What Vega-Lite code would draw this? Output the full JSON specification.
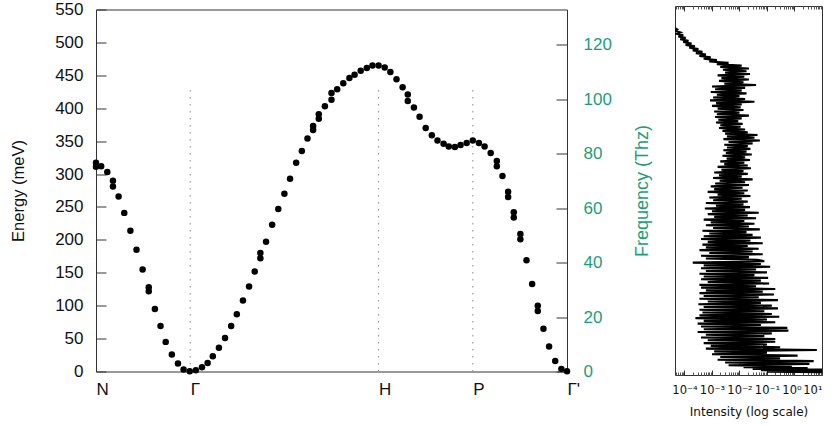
{
  "$schema": "https://vega.github.io/schema/vega-lite/v6.json",
  "padding": {"left": 10, "top": 0, "right": 4, "bottom": 4},
  "spacing": 108,
  "bounds": "flush",
  "center": true,
  "config": {
    "font": "Liberation Sans",
    "view": {"stroke": "#333333", "strokeWidth": 1},
    "axis": {"minExtent": 0, "grid": false, "labelOverlap": false}
  },
  "hconcat": [
    {
      "width": 471,
      "height": 362,
      "layer": [
        {
          "data": {"values": [{"k": 0.2}, {"k": 0.6}, {"k": 0.8}]},
          "mark": {"type": "rule", "color": "#8a8a8a", "strokeWidth": 1, "strokeDash": [1.5, 5.5]},
          "encoding": {
            "x": {
              "field": "k", "type": "quantitative", "scale": {"domain": [0, 1], "nice": false},
              "axis": {
                "values": [0, 0.2, 0.6, 0.8, 1],
                "labelExpr": "datum.value == 0 ? 'N' : datum.value == 0.2 ? 'Γ' : datum.value == 0.6 ? 'H' : datum.value == 0.8 ? 'P' : \"Γ'\"",
                "ticks": false, "domain": false, "title": null, "labelFlush": false,
                "labelAlign": "left", "labelFontSize": 17, "labelColor": "#111111", "labelPadding": 10
              }
            },
            "y": {"datum": 0, "type": "quantitative", "scale": {"domain": [0, 550], "nice": false}, "axis": null},
            "y2": {"datum": 435}
          }
        },
        {
          "data": {"values": [
            {"k":0,"E":317},{"k":0,"E":311},{"k":0.011,"E":312},{"k":0.024,"E":303},{"k":0.036,"E":290},{"k":0.036,"E":281},
            {"k":0.048,"E":266},{"k":0.060,"E":241},{"k":0.073,"E":214},{"k":0.086,"E":185},{"k":0.099,"E":155},{"k":0.112,"E":128},
            {"k":0.112,"E":122},{"k":0.125,"E":95},{"k":0.137,"E":69},{"k":0.148,"E":45},{"k":0.161,"E":26},{"k":0.174,"E":12},
            {"k":0.186,"E":3},{"k":0.199,"E":0.5},
            {"k":0.212,"E":2},{"k":0.225,"E":6.5},{"k":0.237,"E":13},{"k":0.248,"E":23},{"k":0.261,"E":36},{"k":0.274,"E":51},
            {"k":0.287,"E":69},{"k":0.299,"E":87},{"k":0.312,"E":108},{"k":0.325,"E":129},{"k":0.337,"E":152},{"k":0.349,"E":180},
            {"k":0.349,"E":172},{"k":0.361,"E":197},{"k":0.374,"E":223},{"k":0.387,"E":247},{"k":0.400,"E":270},{"k":0.412,"E":293},
            {"k":0.425,"E":317},{"k":0.437,"E":335},{"k":0.449,"E":354},{"k":0.461,"E":373},{"k":0.461,"E":367},{"k":0.473,"E":391},
            {"k":0.473,"E":384},{"k":0.486,"E":403},{"k":0.500,"E":423},{"k":0.500,"E":413},{"k":0.512,"E":429},{"k":0.525,"E":438},
            {"k":0.538,"E":446},{"k":0.549,"E":451},{"k":0.562,"E":457},{"k":0.575,"E":461},{"k":0.587,"E":465},{"k":0.600,"E":465},
            {"k":0.613,"E":462},{"k":0.625,"E":455},{"k":0.638,"E":444},{"k":0.651,"E":432},{"k":0.662,"E":421},{"k":0.662,"E":411},
            {"k":0.675,"E":401},{"k":0.687,"E":387},{"k":0.700,"E":370},{"k":0.713,"E":359},{"k":0.725,"E":351},{"k":0.738,"E":346},
            {"k":0.749,"E":342},{"k":0.762,"E":341},{"k":0.774,"E":344},{"k":0.787,"E":347},{"k":0.800,"E":351},
            {"k":0.813,"E":347},{"k":0.825,"E":342},{"k":0.838,"E":332},{"k":0.851,"E":320},{"k":0.851,"E":312},{"k":0.863,"E":297},
            {"k":0.875,"E":273},{"k":0.875,"E":265},{"k":0.887,"E":242},{"k":0.887,"E":234},{"k":0.901,"E":209},{"k":0.901,"E":201},
            {"k":0.914,"E":169},{"k":0.926,"E":133},{"k":0.938,"E":100},{"k":0.938,"E":92},{"k":0.950,"E":65},{"k":0.962,"E":38},
            {"k":0.975,"E":16},{"k":0.988,"E":4},{"k":1.000,"E":0.5}
          ]},
          "mark": {"type": "circle", "size": 42, "color": "#000000", "opacity": 1},
          "encoding": {
            "x": {
              "field": "k", "type": "quantitative", "scale": {"domain": [0, 1], "nice": false},
              "axis": {
                "values": [0, 0.2, 0.6, 0.8, 1],
                "labelExpr": "datum.value == 0 ? 'N' : datum.value == 0.2 ? 'Γ' : datum.value == 0.6 ? 'H' : datum.value == 0.8 ? 'P' : \"Γ'\"",
                "ticks": false, "domain": false, "title": null, "labelFlush": false,
                "labelAlign": "left", "labelFontSize": 17, "labelColor": "#111111", "labelPadding": 10
              }
            },
            "y": {
              "field": "E", "type": "quantitative", "scale": {"domain": [0, 550], "nice": false},
              "axis": {
                "values": [0, 50, 100, 150, 200, 250, 300, 350, 400, 450, 500, 550],
                "tickSize": -10, "tickColor": "#333333", "tickWidth": 1, "domain": false,
                "labelFontSize": 17, "labelColor": "#111111", "labelPadding": 23,
                "title": "Energy (meV)", "titleFontSize": 16.5, "titleFontWeight": "normal", "titleColor": "#111111", "titlePadding": 28
              }
            }
          }
        },
        {
          "data": {"values": [{"f": 0}, {"f": 133}]},
          "mark": {"type": "point", "opacity": 0},
          "encoding": {
            "y": {
              "field": "f", "type": "quantitative", "scale": {"domain": [0, 133], "nice": false},
              "axis": {
                "orient": "right", "values": [0, 20, 40, 60, 80, 100, 120],
                "tickSize": -11, "tickColor": "#333333", "tickWidth": 1, "domain": false,
                "labelFontSize": 17, "labelColor": "#1b9e77", "labelPadding": 27,
                "title": "Frequency (Thz)", "titleFontSize": 18, "titleFontWeight": "normal", "titleColor": "#1b9e77",
                "titleAngle": 270, "titleBaseline": "top", "titlePadding": 22
              }
            }
          }
        }
      ],
      "resolve": {"scale": {"y": "independent"}}
    },
    {
      "width": 147,
      "height": 369,
      "data": {"values": [
        {"f":125,"I":4.6e-5},{"f":124.5,"I":5.5e-5},{"f":124,"I":4.8e-5},{"f":123.5,"I":7e-5},{"f":123,"I":5.2e-5},
        {"f":122.5,"I":9e-5},{"f":122,"I":6e-5},{"f":121.5,"I":1.1e-4},{"f":121,"I":7e-5},{"f":120.5,"I":1.4e-4},
        {"f":120,"I":9e-5},{"f":119.5,"I":1.8e-4},{"f":119,"I":1.1e-4},{"f":118.5,"I":2.4e-4},{"f":118,"I":1.5e-4},
        {"f":117.5,"I":3.2e-4},{"f":117,"I":2e-4},{"f":116.5,"I":4.5e-4},{"f":116,"I":2.6e-4},{"f":115.5,"I":6e-4},
        {"f":115,"I":3.5e-4},{"f":114.5,"I":9e-4},{"f":114,"I":5e-4},{"f":113.5,"I":1.5e-3},{"f":113,"I":8e-4},
        {"f":112.5,"I":4e-3},{"f":112,"I":1.5e-3},{"f":111.5,"I":1.2e-2},{"f":111,"I":2e-3},{"f":110.5,"I":2.2e-2},
        {"f":110,"I":2.5e-3},{"f":109.5,"I":1.8e-2},{"f":109,"I":3e-3},{"f":108.5,"I":2.4e-2},{"f":108,"I":1.6e-3},
        {"f":107.5,"I":1.5e-2},{"f":107,"I":2.2e-3},{"f":106.5,"I":2.2e-2},{"f":106,"I":1.8e-3},{"f":105.5,"I":1.4e-2},
        {"f":105,"I":2.8e-3},{"f":104.5,"I":4e-2},{"f":104,"I":1e-3},{"f":103.5,"I":1.6e-2},{"f":103,"I":1.3e-3},
        {"f":102.5,"I":1.2e-2},{"f":102,"I":9e-4},{"f":101.5,"I":1.8e-2},{"f":101,"I":1.5e-3},{"f":100.5,"I":1e-2},
        {"f":100,"I":1.1e-3},{"f":99.5,"I":1.6e-2},{"f":99,"I":8.5e-4},{"f":98.5,"I":3.5e-2},{"f":98,"I":1.4e-3},
        {"f":97.5,"I":1.2e-2},{"f":97,"I":1e-3},{"f":96.5,"I":1.1e-2},{"f":96,"I":1.6e-3},{"f":95.5,"I":1.4e-2},
        {"f":95,"I":1.2e-3},{"f":94.5,"I":1e-2},{"f":94,"I":1.5e-3},{"f":93.5,"I":2.2e-2},{"f":93,"I":1.3e-3},
        {"f":92.5,"I":1.2e-2},{"f":92,"I":1.7e-3},{"f":91.5,"I":9e-3},{"f":91,"I":1.4e-3},{"f":90.5,"I":1.3e-2},
        {"f":90,"I":2e-3},{"f":89.5,"I":1.1e-2},{"f":89,"I":1.8e-3},{"f":88.5,"I":1.6e-2},{"f":88,"I":2.4e-3},
        {"f":87.5,"I":2e-2},{"f":87,"I":3e-3},{"f":86.5,"I":4.5e-2},{"f":86,"I":3.5e-3},{"f":85.5,"I":3.5e-2},
        {"f":85,"I":2.6e-3},{"f":84.5,"I":5.5e-2},{"f":84,"I":4e-3},{"f":83.5,"I":3e-2},{"f":83,"I":2.8e-3},
        {"f":82.5,"I":2e-2},{"f":82,"I":3.5e-3},{"f":81.5,"I":2.5e-2},{"f":81,"I":2.6e-3},{"f":80.5,"I":1.8e-2},
        {"f":80,"I":3.2e-3},{"f":79.5,"I":2.8e-2},{"f":79,"I":2.4e-3},{"f":78.5,"I":1.6e-2},{"f":78,"I":3.4e-3},
        {"f":77.5,"I":2.4e-2},{"f":77,"I":2e-3},{"f":76.5,"I":1.5e-2},{"f":76,"I":2.8e-3},{"f":75.5,"I":2e-2},
        {"f":75,"I":1.6e-3},{"f":74.5,"I":2.6e-2},{"f":74,"I":2.2e-3},{"f":73.5,"I":1.4e-2},{"f":73,"I":1.2e-3},
        {"f":72.5,"I":2e-2},{"f":72,"I":1.8e-3},{"f":71.5,"I":1.2e-2},{"f":71,"I":1.1e-3},{"f":70.5,"I":3e-2},
        {"f":70,"I":1.9e-3},{"f":69.5,"I":1.6e-2},{"f":69,"I":1.3e-3},{"f":68.5,"I":2.2e-2},{"f":68,"I":9e-4},
        {"f":67.5,"I":1.3e-2},{"f":67,"I":1.2e-3},{"f":66.5,"I":2e-2},{"f":66,"I":7e-4},{"f":65.5,"I":1.5e-2},
        {"f":65,"I":1.6e-3},{"f":64.5,"I":2.5e-2},{"f":64,"I":8e-4},{"f":63.5,"I":1.2e-2},{"f":63,"I":1.1e-3},
        {"f":62.5,"I":2e-2},{"f":62,"I":6e-4},{"f":61.5,"I":1.4e-2},{"f":61,"I":1.4e-3},{"f":60.5,"I":2.4e-2},
        {"f":60,"I":5.5e-4},{"f":59.5,"I":1.6e-2},{"f":59,"I":1e-3},{"f":58.5,"I":5e-2},{"f":58,"I":7e-4},
        {"f":57.5,"I":2e-2},{"f":57,"I":1.2e-3},{"f":56.5,"I":4e-2},{"f":56,"I":5e-4},{"f":55.5,"I":1.5e-2},
        {"f":55,"I":9e-4},{"f":54.5,"I":3.5e-2},{"f":54,"I":6e-4},{"f":53.5,"I":2.2e-2},{"f":53,"I":1.1e-3},
        {"f":52.5,"I":5.5e-2},{"f":52,"I":4.5e-4},{"f":51.5,"I":1.8e-2},{"f":51,"I":8e-4},{"f":50.5,"I":3e-2},
        {"f":50,"I":5e-4},{"f":49.5,"I":6e-2},{"f":49,"I":4e-4},{"f":48.5,"I":2.5e-2},{"f":48,"I":7e-4},
        {"f":47.5,"I":7e-2},{"f":47,"I":4.5e-4},{"f":46.5,"I":2e-2},{"f":46,"I":6e-4},{"f":45.5,"I":5e-2},
        {"f":45,"I":3.5e-4},{"f":44.5,"I":3e-2},{"f":44,"I":8e-4},{"f":43.5,"I":7e-2},{"f":43,"I":4e-4},
        {"f":42.5,"I":2.2e-2},{"f":42,"I":6e-4},{"f":41.5,"I":4.5e-2},{"f":41,"I":8e-2},{"f":40.5,"I":2e-4},
        {"f":40,"I":6e-2},{"f":39.5,"I":5e-4},{"f":39,"I":1.3e-1},{"f":38.5,"I":4e-4},{"f":38,"I":4e-2},
        {"f":37.5,"I":6e-4},{"f":37,"I":1e-1},{"f":36.5,"I":3.5e-4},{"f":36,"I":3.5e-2},{"f":35.5,"I":5e-4},
        {"f":35,"I":1.1e-1},{"f":34.5,"I":4e-4},{"f":34,"I":6e-2},{"f":33.5,"I":7e-4},{"f":33,"I":1.2e-1},
        {"f":32.5,"I":3.5e-4},{"f":32,"I":4e-2},{"f":31.5,"I":4e-4},{"f":31,"I":2e-1},{"f":30.5,"I":6e-4},
        {"f":30,"I":7e-2},{"f":29.5,"I":3.5e-4},{"f":29,"I":1.8e-1},{"f":28.5,"I":5e-4},{"f":28,"I":5e-2},
        {"f":27.5,"I":3.5e-4},{"f":27,"I":2.5e-1},{"f":26.5,"I":7e-4},{"f":26,"I":6e-2},{"f":25.5,"I":3.2e-4},
        {"f":25,"I":1.5e-1},{"f":24.5,"I":5e-4},{"f":24,"I":2.5e-1},{"f":23.5,"I":3.5e-4},{"f":23,"I":8e-2},
        {"f":22.5,"I":4.5e-4},{"f":22,"I":1.5e-1},{"f":21.5,"I":3.5e-4},{"f":21,"I":2.8e-1},{"f":20.5,"I":2.5e-4},
        {"f":20,"I":1e-1},{"f":19.5,"I":5e-4},{"f":19,"I":2e-1},{"f":18.5,"I":3e-4},{"f":18,"I":6e-2},
        {"f":17.5,"I":4e-4},{"f":17,"I":5.5e-1},{"f":16.5,"I":5e-4},{"f":16,"I":6e-1},{"f":15.5,"I":3e-4},
        {"f":15,"I":1.5e-1},{"f":14.5,"I":6e-4},{"f":14,"I":8e-2},{"f":13.5,"I":4e-4},{"f":13,"I":2e-1},
        {"f":12.5,"I":7e-4},{"f":12,"I":2e-1},{"f":11.5,"I":5e-4},{"f":11,"I":1e-1},{"f":10.5,"I":9e-4},
        {"f":10,"I":3e-1},{"f":9.5,"I":6e-4},{"f":9,"I":6.5},{"f":8.5,"I":1.2e-3},{"f":8,"I":1e-1},
        {"f":7.5,"I":1e-3},{"f":7,"I":1.3},{"f":6.5,"I":2e-3},{"f":6,"I":3e-1},{"f":5.5,"I":1.6e-3},
        {"f":5,"I":5},{"f":4.5,"I":3e-3},{"f":4,"I":3.5},{"f":3.5,"I":4e-3},{"f":3,"I":8e-1},
        {"f":2.8,"I":1.4e-2},{"f":2.5,"I":3},{"f":2.2,"I":3e-2},{"f":2,"I":10},{"f":1.7,"I":6e-2},
        {"f":1.5,"I":12},{"f":1.2,"I":1e-1},{"f":1,"I":15}
      ]},
      "layer": [
        {
          "mark": {"type": "line", "color": "#000000", "strokeWidth": 2.1, "clip": true},
          "encoding": {
            "x": {
              "field": "I", "type": "quantitative",
              "scale": {"type": "log", "domain": [4.52e-5, 10], "nice": false},
              "axis": {
                "orient": "bottom", "values": [0.0001, 0.001, 0.01, 0.1, 1, 10],
                "labelExpr": "datum.value == 10 ? '10¹' : datum.value == 1 ? '10⁰' : datum.value == 0.1 ? '10⁻¹' : datum.value == 0.01 ? '10⁻²' : datum.value == 0.001 ? '10⁻³' : '10⁻⁴'",
                "tickSize": -5, "tickColor": "#333333", "domain": false, "labelFlush": true,
                "labelOffset": {"condition": {"test": "datum.value == 1", "value": -3}, "value": 0},
                "labelFont": "DejaVu Sans", "labelFontSize": 11.5, "labelColor": "#111111", "labelPadding": 14,
                "title": "Intensity (log scale)", "titleFont": "DejaVu Sans", "titleFontSize": 12,
                "titleFontWeight": "normal", "titleColor": "#111111", "titlePadding": 11
              }
            },
            "y": {
              "field": "f", "type": "quantitative", "scale": {"domain": [0, 133], "nice": false},
              "axis": {"values": [20, 40, 60, 80, 100, 120], "tickSize": -6, "tickColor": "#333333", "labels": false, "domain": false, "title": null}
            },
            "order": {"field": "f", "type": "quantitative"}
          }
        },
        {
          "mark": {"type": "point", "opacity": 0},
          "encoding": {
            "x": {"field": "I", "type": "quantitative", "axis": {"orient": "top", "values": [0.0001, 0.001, 0.01, 0.1, 1], "tickSize": -5, "tickColor": "#333333", "labels": false, "domain": false, "title": null}},
            "y": {"field": "f", "type": "quantitative", "axis": null}
          }
        },
        {
          "mark": {"type": "point", "opacity": 0},
          "encoding": {
            "x": {"field": "I", "type": "quantitative", "axis": {"orient": "bottom", "values": [0.00005,0.00006,0.00007,0.00008,0.00009,0.0002,0.0003,0.0004,0.0005,0.0006,0.0007,0.0008,0.0009,0.002,0.003,0.004,0.005,0.006,0.007,0.008,0.009,0.02,0.03,0.04,0.05,0.06,0.07,0.08,0.09,0.2,0.3,0.4,0.5,0.6,0.7,0.8,0.9,2,3,4,5,6,7,8,9], "tickSize": -3, "tickColor": "#555555", "labels": false, "domain": false, "title": null}},
            "y": {"field": "f", "type": "quantitative", "axis": null}
          }
        },
        {
          "mark": {"type": "point", "opacity": 0},
          "encoding": {
            "x": {"field": "I", "type": "quantitative", "axis": {"orient": "top", "values": [0.00005,0.00006,0.00007,0.00008,0.00009,0.0002,0.0003,0.0004,0.0005,0.0006,0.0007,0.0008,0.0009,0.002,0.003,0.004,0.005,0.006,0.007,0.008,0.009,0.02,0.03,0.04,0.05,0.06,0.07,0.08,0.09,0.2,0.3,0.4,0.5,0.6,0.7,0.8,0.9,2,3,4,5,6,7,8,9], "tickSize": -3, "tickColor": "#555555", "labels": false, "domain": false, "title": null}},
            "y": {"field": "f", "type": "quantitative", "axis": null}
          }
        }
      ],
      "resolve": {"axis": {"x": "independent"}}
    }
  ]
}
